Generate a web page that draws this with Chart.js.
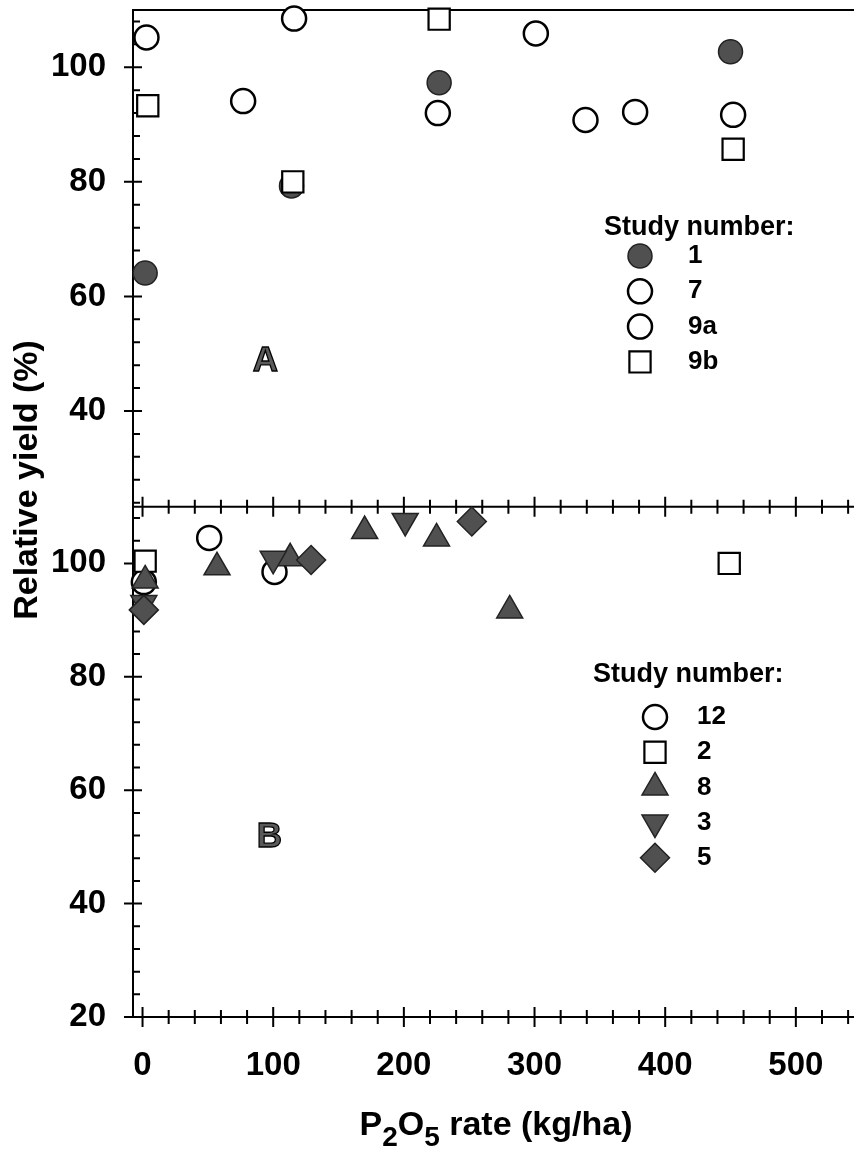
<!DOCTYPE html>
<html>
<head>
<meta charset="utf-8">
<title>Relative yield vs P2O5 rate</title>
<script src="https://cdn.jsdelivr.net/npm/chart.js@4/dist/chart.umd.min.js"></script>
<style>
  html, body { margin: 0; padding: 0; background: #fff; overflow: hidden; }
  canvas { display: block; }
</style>
</head>
<body>
<canvas id="yieldChart" width="854" height="1150"></canvas>
<script>
// panel A
var study1X = [2, 114, 227, 450];
var study1Y = [64.1, 79.3, 97.3, 102.7];
var study7X = [3, 116, 226, 452];
var study7Y = [105.2, 108.5, 92.0, 91.7];
var study9aX = [77, 301, 339, 377];
var study9aY = [94.1, 105.9, 90.8, 92.2];
var study9bX = [4, 115, 227, 452];
var study9bY = [93.3, 80.0, 108.4, 85.7];

// panel B
var study12X = [1, 51, 101];
var study12Y = [96.7, 104.5, 98.5];
var study2X = [2, 449];
var study2Y = [100.4, 100.0];
var study8X = [2, 57, 113, 170, 225, 281];
var study8Y = [97.0, 99.3, 100.9, 105.7, 104.4, 91.7];
var study3X = [1, 100, 201];
var study3Y = [93.0, 100.8, 107.5];
var study5X = [1, 129, 252];
var study5Y = [91.8, 100.6, 107.4];

var xTickLabels = [0, 100, 200, 300, 400, 500];
var yTickLabelsA = [40, 60, 80, 100];
var yTickLabelsB = [20, 40, 60, 80, 100];

var DARK = '#505050';
var FONT = '"Liberation Sans", Arial, sans-serif';

function pts(xs, ys) {
  return xs.map(function (x, i) { return { x: x, y: ys[i] }; });
}

function openCircle(label, xs, ys, axis, order) {
  return { label: label, data: pts(xs, ys), yAxisID: axis, panel: axis, order: order,
    pointStyle: 'circle', pointRadius: 12, backgroundColor: '#fff', borderColor: '#000', borderWidth: 2.5 };
}

var datasets = [
  { label: '1', data: pts(study1X, study1Y), yAxisID: 'yA', panel: 'yA', order: 1,
    pointStyle: 'circle', pointRadius: 12, backgroundColor: DARK, borderColor: '#222', borderWidth: 1.5 },
  openCircle('7', study7X, study7Y, 'yA', 3),
  openCircle('9a', study9aX, study9aY, 'yA', 2),
  { label: '9b', data: pts(study9bX, study9bY), yAxisID: 'yA', panel: 'yA', order: 0,
    pointStyle: 'rect', pointRadius: 15, backgroundColor: '#fff', borderColor: '#000', borderWidth: 2.2 },

  openCircle('12', study12X, study12Y, 'yB', 4),
  { label: '2', data: pts(study2X, study2Y), yAxisID: 'yB', panel: 'yB', order: 3,
    pointStyle: 'rect', pointRadius: 15, backgroundColor: '#fff', borderColor: '#000', borderWidth: 2.2 },
  { label: '8', data: pts(study8X, study8Y), yAxisID: 'yB', panel: 'yB', order: 2,
    pointStyle: 'triangle', pointRadius: 15, backgroundColor: DARK, borderColor: '#222', borderWidth: 1.5 },
  { label: '3', data: pts(study3X, study3Y), yAxisID: 'yB', panel: 'yB', order: 1,
    pointStyle: 'triangle', pointRotation: 180, pointRadius: 15, backgroundColor: DARK, borderColor: '#222', borderWidth: 1.5 },
  { label: '5', data: pts(study5X, study5Y), yAxisID: 'yB', panel: 'yB', order: 0,
    pointStyle: 'rectRot', pointRadius: 14.5, backgroundColor: DARK, borderColor: '#222', borderWidth: 1.5 }
];
datasets.forEach(function (ds) {
  ds.clip = false;
  ds.pointHoverRadius = ds.pointRadius;
});

// axis lines and the tick marks (major cross the axis, minor point inward on y)
var panelAxes = {
  id: 'panelAxes',
  beforeDatasetsDraw: function (chart) {
    var ctx = chart.ctx, area = chart.chartArea;
    var x = chart.scales.x, yA = chart.scales.yA, yB = chart.scales.yB;
    ctx.save();
    ctx.strokeStyle = '#000';
    ctx.lineWidth = 2;
    ctx.beginPath();
    ctx.moveTo(area.left, area.top);
    ctx.lineTo(area.left, area.bottom);
    [area.top, yA.bottom, area.bottom].forEach(function (py) {
      ctx.moveTo(area.left - 1, py);
      ctx.lineTo(area.right, py);
    });
    for (var v = 0; v <= x.max; v += 20) {
      var px = x.getPixelForValue(v);
      var len = v % 100 === 0 ? 10 : 7;
      [yA.bottom, area.bottom].forEach(function (py) {
        ctx.moveTo(px, py - len);
        ctx.lineTo(px, py + len);
      });
    }
    [yA, yB].forEach(function (s) {
      for (var t = Math.ceil(s.min / 4) * 4; t < s.max; t += 4) {
        var py = s.getPixelForValue(t);
        if (t % 20 === 0) {
          ctx.moveTo(area.left - 9, py);
          ctx.lineTo(area.left + 9, py);
        } else {
          ctx.moveTo(area.left, py);
          ctx.lineTo(area.left + 7, py);
        }
      }
    });
    ctx.stroke();
    ctx.restore();
  }
};

var panelLetters = [
  { text: 'A', x: 94, y: 48.6, axis: 'yA' },
  { text: 'B', x: 97, y: 51.6, axis: 'yB' }
];

var legendBoxes = {
  yA: { left: 604, titleY: 228, firstY: 256, step: 35.3, symbolX: 640, labelX: 688 },
  yB: { left: 593, titleY: 675, firstY: 717, step: 35.2, symbolX: 655, labelX: 697 }
};

var drawPoint = Chart.helpers && Chart.helpers.drawPoint;

var figureText = {
  id: 'figureText',
  afterDraw: function (chart) {
    var ctx = chart.ctx;
    ctx.save();
    ctx.fillStyle = '#000';

    // y title
    ctx.save();
    ctx.translate(28, 480);
    ctx.rotate(-Math.PI / 2);
    ctx.font = 'bold 34px ' + FONT;
    ctx.textAlign = 'center';
    ctx.textBaseline = 'middle';
    ctx.fillText('Relative yield (%)', 0, 0);
    ctx.restore();

    // x title with subscripts
    var parts = [['P', 0], ['2', 1], ['O', 0], ['5', 1], [' rate (kg/ha)', 0]];
    var total = 0;
    parts.forEach(function (p) {
      ctx.font = 'bold ' + (p[1] ? 28 : 34) + 'px ' + FONT;
      p.w = ctx.measureText(p[0]).width;
      total += p.w;
    });
    var tx = 496 - total / 2;
    ctx.textAlign = 'left';
    ctx.textBaseline = 'alphabetic';
    parts.forEach(function (p) {
      ctx.font = 'bold ' + (p[1] ? 28 : 34) + 'px ' + FONT;
      ctx.fillText(p[0], tx, 1135 + (p[1] ? 11 : 0));
      tx += p.w;
    });

    // panel letters
    ctx.font = 'bold 35px ' + FONT;
    ctx.textAlign = 'center';
    ctx.textBaseline = 'middle';
    ctx.lineWidth = 1.3;
    ctx.strokeStyle = '#000';
    panelLetters.forEach(function (l) {
      var px = chart.scales.x.getPixelForValue(l.x);
      var py = chart.scales[l.axis].getPixelForValue(l.y);
      ctx.fillStyle = '#5a5a5a';
      ctx.fillText(l.text, px, py);
      ctx.strokeText(l.text, px, py);
    });

    // legends
    Object.keys(legendBoxes).forEach(function (axis) {
      var box = legendBoxes[axis];
      ctx.fillStyle = '#000';
      ctx.textAlign = 'left';
      ctx.textBaseline = 'middle';
      ctx.font = 'bold 27px ' + FONT;
      ctx.fillText('Study number:', box.left, box.titleY);
      var row = 0;
      chart.data.datasets.forEach(function (ds) {
        if (ds.panel !== axis) return;
        var sy = box.firstY + row * box.step;
        ctx.fillStyle = ds.backgroundColor;
        ctx.strokeStyle = ds.borderColor;
        ctx.lineWidth = ds.borderWidth;
        if (drawPoint) {
          drawPoint(ctx, { pointStyle: ds.pointStyle, rotation: ds.pointRotation || 0,
            radius: ds.pointRadius, borderWidth: ds.borderWidth }, box.symbolX, sy);
        }
        ctx.fillStyle = '#000';
        ctx.font = 'bold 26px ' + FONT;
        ctx.fillText(ds.label, box.labelX, sy);
        row++;
      });
    });
    ctx.restore();
  }
};

var tickFont = { family: FONT, size: 33, weight: 'bold' };

function yAxis(min, labels, weight, stackWeight) {
  return {
    type: 'linear', position: 'left', stack: 'panels', stackWeight: stackWeight, weight: weight,
    min: min, max: 110,
    grid: { display: false, drawTicks: false },
    border: { display: false },
    ticks: { font: tickFont, color: '#000', padding: 27 },
    afterBuildTicks: function (s) { s.ticks = labels.map(function (v) { return { value: v }; }); },
    afterFit: function (s) { s.width = 133; s.paddingTop = 0; s.paddingBottom = 0; }
  };
}

var myChart = new Chart(document.getElementById('yieldChart'), {
  type: 'scatter',
  data: { datasets: datasets },
  options: {
    responsive: false,
    animation: false,
    devicePixelRatio: 1,
    events: [],
    layout: { autoPadding: false, padding: { top: 10, left: 0, right: 0, bottom: 0 } },
    plugins: { legend: { display: false }, tooltip: { enabled: false } },
    scales: {
      x: {
        type: 'linear', position: 'bottom', min: -7.3, max: 544.5,
        grid: { display: false, drawTicks: false },
        border: { display: false },
        ticks: { font: tickFont, color: '#000', padding: 29, maxRotation: 0 },
        afterBuildTicks: function (s) { s.ticks = xTickLabels.map(function (v) { return { value: v }; }); },
        afterFit: function (s) { s.height = 133; s.paddingLeft = 0; s.paddingRight = 0; }
      },
      yA: yAxis(23.3, yTickLabelsA, 1, 496.7),
      yB: yAxis(20, yTickLabelsB, 0, 510.3)
    }
  },
  plugins: [panelAxes, figureText]
});
</script>
</body>
</html>
